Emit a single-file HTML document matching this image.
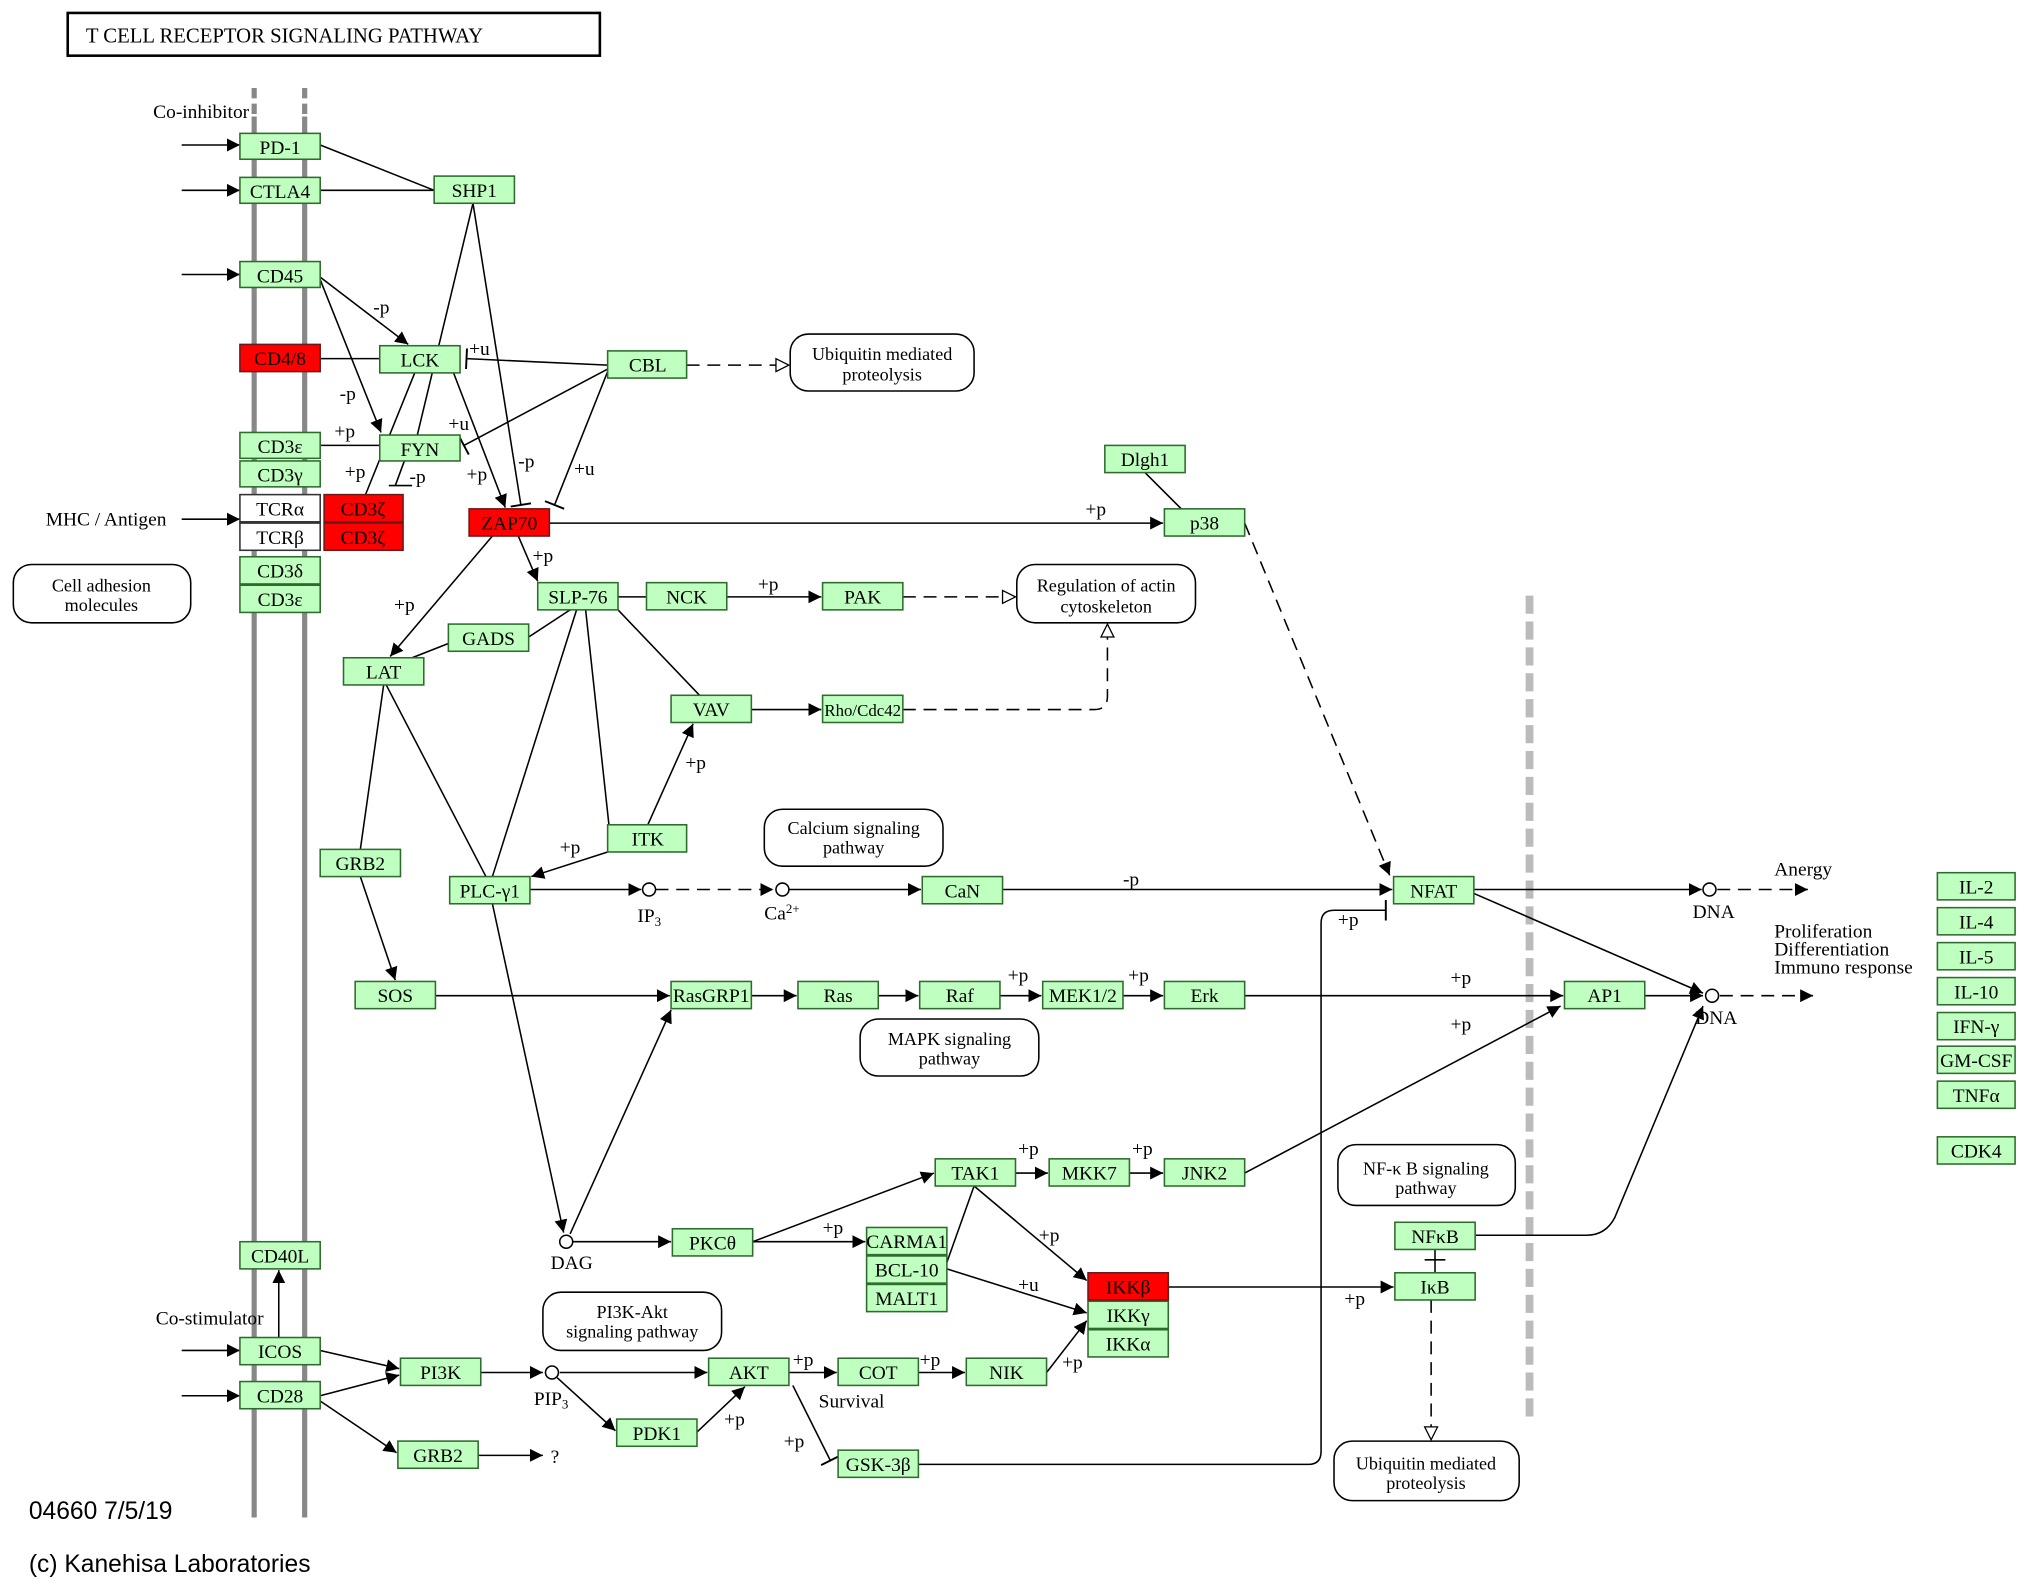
<!DOCTYPE html>
<html><head><meta charset="utf-8"><style>
html,body{margin:0;padding:0;background:#fff;}
svg{display:block}
text{font-family:"Liberation Serif",serif;font-size:15px;fill:#000}
.n rect{fill:#bfffbf;stroke:#2e6b2e;stroke-width:1.2}
.r rect{fill:#ff0000;stroke:#6b1a1a;stroke-width:1.2}
.w rect{fill:#fff;stroke:#333;stroke-width:1.2}
.n text,.r text,.w text{text-anchor:middle;font-size:15px}
.l{stroke:#000;stroke-width:1.2;fill:none}
.d{stroke:#000;stroke-width:1.2;fill:none;stroke-dasharray:10,6}
.rb{fill:#fff;stroke:#000;stroke-width:1.2}
.c{text-anchor:middle;font-size:14px}
</style></head><body>
<svg width="2031" height="1590" viewBox="0 0 1568 1228" xmlns="http://www.w3.org/2000/svg">
<defs>
<marker id="a" viewBox="0 0 10 10" refX="10" refY="5" markerWidth="10" markerHeight="10" markerUnits="userSpaceOnUse" orient="auto"><path d="M0,0L10,5L0,10z" fill="#000"/></marker>
<marker id="o" viewBox="0 0 12 12" refX="11" refY="6" markerWidth="12" markerHeight="12" markerUnits="userSpaceOnUse" orient="auto"><path d="M1,1L11,6L1,11z" fill="#fff" stroke="#000"/></marker>
<marker id="t" viewBox="0 0 4 16" refX="2" refY="8" markerWidth="4" markerHeight="16" markerUnits="userSpaceOnUse" orient="auto"><path d="M2,0L2,16" stroke="#000" stroke-width="1.5"/></marker>
</defs>
<rect x="0" y="0" width="1568" height="1228" fill="#fff"/>
<!-- title -->
<rect x="52" y="10" width="411" height="33" fill="#fff" stroke="#000" stroke-width="2"/>
<text x="66" y="33" style="font-size:16px">T  CELL  RECEPTOR  SIGNALING  PATHWAY</text>
<!-- membranes -->
<g stroke="#888" stroke-width="4">
<line x1="196" y1="68" x2="196" y2="90" stroke-dasharray="8,4"/><line x1="196" y1="90" x2="196" y2="1172"/>
<line x1="235" y1="68" x2="235" y2="90" stroke-dasharray="8,4"/><line x1="235" y1="90" x2="235" y2="1172"/>
</g>
<line x1="1181" y1="460" x2="1181" y2="1095" stroke="#bbb" stroke-width="6" stroke-dasharray="14,6"/>

<!-- edges -->
<g class="l">
<line x1="140" y1="112" x2="185" y2="112" marker-end="url(#a)"/>
<line x1="140" y1="147" x2="185" y2="147" marker-end="url(#a)"/>
<line x1="140" y1="212" x2="185" y2="212" marker-end="url(#a)"/>
<line x1="140" y1="401" x2="185" y2="401" marker-end="url(#a)"/>
<line x1="140" y1="1043" x2="185" y2="1043" marker-end="url(#a)"/>
<line x1="140" y1="1078" x2="185" y2="1078" marker-end="url(#a)"/>
<line x1="247" y1="112" x2="335" y2="147"/>
<line x1="247" y1="147" x2="335" y2="147"/>
<line x1="365" y1="157" x2="322" y2="336"/>
<line x1="365" y1="157" x2="402" y2="390" marker-end="url(#t)"/>
<line x1="247" y1="214" x2="315" y2="266" marker-end="url(#a)"/>
<line x1="247" y1="216" x2="294" y2="334" marker-end="url(#a)"/>
<line x1="247" y1="277" x2="293" y2="277"/>
<line x1="469" y1="282" x2="360" y2="277" marker-end="url(#t)"/>
<line x1="469" y1="285" x2="358" y2="344" marker-end="url(#t)"/>
<line x1="469" y1="287" x2="428" y2="390" marker-end="url(#t)"/>
<line x1="350" y1="288" x2="390" y2="392" marker-end="url(#a)"/>
<line x1="320" y1="288" x2="282" y2="382"/>
<line x1="247" y1="344" x2="293" y2="344"/>
<line x1="312" y1="356" x2="305" y2="375"/><line x1="300" y1="375" x2="318" y2="375"/>
<line x1="424" y1="404" x2="898" y2="404" marker-end="url(#a)"/>
<line x1="884" y1="365" x2="912" y2="393"/>
<line x1="400" y1="414" x2="415" y2="449" marker-end="url(#a)"/>
<line x1="380" y1="414" x2="301" y2="507" marker-end="url(#a)"/>
<line x1="477" y1="461" x2="499" y2="461"/>
<line x1="561" y1="461" x2="634" y2="461" marker-end="url(#a)"/>
<line x1="580" y1="548" x2="634" y2="548" marker-end="url(#a)"/>
<line x1="477" y1="471" x2="540" y2="537"/>
<line x1="408" y1="492" x2="440" y2="471"/>
<line x1="346" y1="497" x2="318" y2="508"/>
<line x1="298" y1="529" x2="375" y2="677"/>
<line x1="296" y1="529" x2="278" y2="656"/>
<line x1="445" y1="471" x2="380" y2="677"/>
<line x1="452" y1="471" x2="470" y2="637"/>
<line x1="500" y1="637" x2="535" y2="559" marker-end="url(#a)"/>
<line x1="469" y1="658" x2="410" y2="677" marker-end="url(#a)"/>
<line x1="278" y1="677" x2="305" y2="757" marker-end="url(#a)"/>
<line x1="409" y1="687" x2="495" y2="687" marker-end="url(#a)"/>
<line x1="609" y1="687" x2="711" y2="687" marker-end="url(#a)"/>
<line x1="774" y1="687" x2="1075" y2="687" marker-end="url(#a)"/>
<line x1="1138" y1="687" x2="1314" y2="687" marker-end="url(#a)"/>
<line x1="1138" y1="690" x2="1315" y2="767" marker-end="url(#a)"/>
<line x1="1270" y1="769" x2="1315" y2="769" marker-end="url(#a)"/>
<line x1="336" y1="769" x2="517" y2="769" marker-end="url(#a)"/>
<line x1="580" y1="769" x2="615" y2="769" marker-end="url(#a)"/>
<line x1="678" y1="769" x2="709" y2="769" marker-end="url(#a)"/>
<line x1="772" y1="769" x2="804" y2="769" marker-end="url(#a)"/>
<line x1="867" y1="769" x2="898" y2="769" marker-end="url(#a)"/>
<line x1="961" y1="769" x2="1207" y2="769" marker-end="url(#a)"/>
<line x1="380" y1="698" x2="435" y2="952" marker-end="url(#a)"/>
<line x1="440" y1="953" x2="518" y2="780" marker-end="url(#a)"/>
<line x1="442" y1="959" x2="518" y2="959" marker-end="url(#a)"/>
<line x1="581" y1="959" x2="721" y2="906" marker-end="url(#a)"/>
<line x1="581" y1="959" x2="668" y2="959" marker-end="url(#a)"/>
<line x1="784" y1="906" x2="809" y2="906" marker-end="url(#a)"/>
<line x1="872" y1="906" x2="898" y2="906" marker-end="url(#a)"/>
<line x1="961" y1="906" x2="1205" y2="777" marker-end="url(#a)"/>
<line x1="752" y1="916" x2="839" y2="989" marker-end="url(#a)"/>
<line x1="731" y1="975" x2="752" y2="916"/>
<line x1="731" y1="980" x2="839" y2="1014" marker-end="url(#a)"/>
<line x1="808" y1="1060" x2="839" y2="1020" marker-end="url(#a)"/>
<line x1="902" y1="994" x2="1076" y2="994" marker-end="url(#a)"/>
<line x1="1108" y1="965" x2="1108" y2="983"/><line x1="1100" y1="973" x2="1116" y2="973"/>
<path d="M1139,954 L1225,954 Q1240,954 1247,940 L1315,777" marker-end="url(#a)"/>
<path d="M709,1131 L1010,1131 Q1020,1131 1020,1121 L1020,713 Q1020,703 1030,703 L1070,703" marker-end="url(#t)"/>
<line x1="215" y1="1033" x2="215" y2="981" marker-end="url(#a)"/>
<line x1="247" y1="1043" x2="308" y2="1057" marker-end="url(#a)"/>
<line x1="247" y1="1078" x2="308" y2="1062" marker-end="url(#a)"/>
<line x1="247" y1="1082" x2="306" y2="1122" marker-end="url(#a)"/>
<line x1="369" y1="1124" x2="419" y2="1124" marker-end="url(#a)"/>
<line x1="371" y1="1060" x2="419" y2="1060" marker-end="url(#a)"/>
<line x1="432" y1="1060" x2="546" y2="1060" marker-end="url(#a)"/>
<line x1="430" y1="1064" x2="475" y2="1105" marker-end="url(#a)"/>
<line x1="538" y1="1106" x2="575" y2="1071" marker-end="url(#a)"/>
<line x1="609" y1="1060" x2="646" y2="1060" marker-end="url(#a)"/>
<line x1="709" y1="1060" x2="745" y2="1060" marker-end="url(#a)"/>
<line x1="612" y1="1070" x2="641" y2="1128" marker-end="url(#t)"/>
</g>
<g class="d">
<line x1="530" y1="282" x2="609" y2="282" marker-end="url(#o)"/>
<line x1="697" y1="461" x2="784" y2="461" marker-end="url(#o)"/>
<path d="M697,548 L845,548 Q855,548 855,538 L855,482" marker-end="url(#o)"/>
<line x1="961" y1="404" x2="1073" y2="676" marker-end="url(#a)"/>
<line x1="506" y1="687" x2="597" y2="687" marker-end="url(#a)"/>
<line x1="1326" y1="687" x2="1396" y2="687" marker-end="url(#a)"/>
<line x1="1328" y1="769" x2="1400" y2="769" marker-end="url(#a)"/>
<line x1="1105" y1="1004" x2="1105" y2="1112" marker-end="url(#o)"/>
</g>
<g fill="#fff" stroke="#000" stroke-width="1.2">
<circle cx="501" cy="687" r="5"/><circle cx="604" cy="687" r="5"/>
<circle cx="1320" cy="687" r="5"/><circle cx="1322" cy="769" r="5"/>
<circle cx="437" cy="959" r="5"/><circle cx="426" cy="1060" r="5"/>
</g>

<!-- rounded boxes -->
<g>
<rect class="rb" x="610" y="258" width="142" height="44" rx="14"/><text class="c" x="681" y="278">Ubiquitin mediated</text><text class="c" x="681" y="294">proteolysis</text>
<rect class="rb" x="785" y="436" width="138" height="45" rx="14"/><text class="c" x="854" y="457">Regulation of actin</text><text class="c" x="854" y="473">cytoskeleton</text>
<rect class="rb" x="10" y="436" width="137" height="45" rx="14"/><text class="c" x="78" y="457">Cell adhesion</text><text class="c" x="78" y="472">molecules</text>
<rect class="rb" x="590" y="625" width="138" height="44" rx="14"/><text class="c" x="659" y="644">Calcium signaling</text><text class="c" x="659" y="659">pathway</text>
<rect class="rb" x="664" y="787" width="138" height="44" rx="14"/><text class="c" x="733" y="807">MAPK signaling</text><text class="c" x="733" y="822">pathway</text>
<rect class="rb" x="1033" y="884" width="137" height="47" rx="14"/><text class="c" x="1101" y="907">NF-κ B signaling</text><text class="c" x="1101" y="922">pathway</text>
<rect class="rb" x="419" y="998" width="138" height="45" rx="14"/><text class="c" x="488" y="1018">PI3K-Akt</text><text class="c" x="488" y="1033">signaling pathway</text>
<rect class="rb" x="1030" y="1113" width="143" height="46" rx="14"/><text class="c" x="1101" y="1135">Ubiquitin mediated</text><text class="c" x="1101" y="1150">proteolysis</text>
</g>

<!-- nodes -->
<g class="n">
<rect x="185" y="103" width="62" height="20"/><text x="216" y="119">PD-1</text>
<rect x="185" y="137" width="62" height="20"/><text x="216" y="153">CTLA4</text>
<rect x="335" y="136" width="62" height="21"/><text x="366" y="152">SHP1</text>
<rect x="185" y="202" width="62" height="20"/><text x="216" y="218">CD45</text>
<rect x="293" y="267" width="62" height="21"/><text x="324" y="283">LCK</text>
<rect x="469" y="271" width="61" height="21"/><text x="500" y="287">CBL</text>
<rect x="185" y="334" width="62" height="20"/><text x="216" y="350">CD3ε</text>
<rect x="185" y="356" width="62" height="20"/><text x="216" y="372">CD3γ</text>
<rect x="293" y="336" width="62" height="20"/><text x="324" y="352">FYN</text>
<rect x="853" y="344" width="62" height="21"/><text x="884" y="360">Dlgh1</text>
<rect x="899" y="393" width="62" height="21"/><text x="930" y="409">p38</text>
<rect x="185" y="430" width="62" height="21"/><text x="216" y="446">CD3δ</text>
<rect x="185" y="452" width="62" height="21"/><text x="216" y="468">CD3ε</text>
<rect x="415" y="450" width="62" height="21"/><text x="446" y="466">SLP-76</text>
<rect x="499" y="450" width="62" height="21"/><text x="530" y="466">NCK</text>
<rect x="635" y="450" width="62" height="21"/><text x="666" y="466">PAK</text>
<rect x="346" y="482" width="62" height="21"/><text x="377" y="498">GADS</text>
<rect x="265" y="508" width="62" height="21"/><text x="296" y="524">LAT</text>
<rect x="518" y="537" width="62" height="21"/><text x="549" y="553">VAV</text>
<rect x="635" y="537" width="62" height="21"/><text x="666" y="553" style="font-size:13px">Rho/Cdc42</text>
<rect x="469" y="637" width="61" height="21"/><text x="500" y="653">ITK</text>
<rect x="247" y="656" width="62" height="21"/><text x="278" y="672">GRB2</text>
<rect x="347" y="677" width="62" height="21"/><text x="378" y="693">PLC-γ1</text>
<rect x="712" y="677" width="62" height="21"/><text x="743" y="693">CaN</text>
<rect x="1076" y="677" width="62" height="21"/><text x="1107" y="693">NFAT</text>
<rect x="274" y="758" width="62" height="21"/><text x="305" y="774">SOS</text>
<rect x="518" y="758" width="62" height="21"/><text x="549" y="774">RasGRP1</text>
<rect x="616" y="758" width="62" height="21"/><text x="647" y="774">Ras</text>
<rect x="710" y="758" width="62" height="21"/><text x="741" y="774">Raf</text>
<rect x="805" y="758" width="62" height="21"/><text x="836" y="774">MEK1/2</text>
<rect x="899" y="758" width="62" height="21"/><text x="930" y="774">Erk</text>
<rect x="1208" y="758" width="62" height="21"/><text x="1239" y="774">AP1</text>
<rect x="722" y="895" width="62" height="21"/><text x="753" y="911">TAK1</text>
<rect x="810" y="895" width="62" height="21"/><text x="841" y="911">MKK7</text>
<rect x="899" y="895" width="62" height="21"/><text x="930" y="911">JNK2</text>
<rect x="519" y="949" width="62" height="21"/><text x="550" y="965">PKCθ</text>
<rect x="669" y="948" width="62" height="21"/><text x="700" y="964">CARMA1</text>
<rect x="669" y="970" width="62" height="21"/><text x="700" y="986">BCL-10</text>
<rect x="669" y="992" width="62" height="21"/><text x="700" y="1008">MALT1</text>
<rect x="840" y="1005" width="62" height="21"/><text x="871" y="1021">IKKγ</text>
<rect x="840" y="1027" width="62" height="21"/><text x="871" y="1043">IKKα</text>
<rect x="1077" y="944" width="62" height="21"/><text x="1108" y="960">NFκB</text>
<rect x="1077" y="983" width="62" height="21"/><text x="1108" y="999">IκB</text>
<rect x="185" y="959" width="62" height="21"/><text x="216" y="975">CD40L</text>
<rect x="185" y="1033" width="62" height="21"/><text x="216" y="1049">ICOS</text>
<rect x="185" y="1067" width="62" height="21"/><text x="216" y="1083">CD28</text>
<rect x="309" y="1049" width="62" height="21"/><text x="340" y="1065">PI3K</text>
<rect x="547" y="1049" width="62" height="21"/><text x="578" y="1065">AKT</text>
<rect x="647" y="1049" width="62" height="21"/><text x="678" y="1065">COT</text>
<rect x="746" y="1049" width="62" height="21"/><text x="777" y="1065">NIK</text>
<rect x="476" y="1096" width="62" height="21"/><text x="507" y="1112">PDK1</text>
<rect x="647" y="1120" width="62" height="21"/><text x="678" y="1136">GSK-3β</text>
<rect x="307" y="1113" width="62" height="21"/><text x="338" y="1129">GRB2</text>
<rect x="1496" y="674" width="60" height="21"/><text x="1526" y="690">IL-2</text>
<rect x="1496" y="701" width="60" height="21"/><text x="1526" y="717">IL-4</text>
<rect x="1496" y="728" width="60" height="21"/><text x="1526" y="744">IL-5</text>
<rect x="1496" y="755" width="60" height="21"/><text x="1526" y="771">IL-10</text>
<rect x="1496" y="782" width="60" height="21"/><text x="1526" y="798">IFN-γ</text>
<rect x="1496" y="808" width="60" height="21"/><text x="1526" y="824">GM-CSF</text>
<rect x="1496" y="835" width="60" height="21"/><text x="1526" y="851">TNFα</text>
<rect x="1496" y="878" width="60" height="21"/><text x="1526" y="894">CDK4</text>
</g>
<g class="r">
<rect x="185" y="266" width="62" height="21"/><text x="216" y="282">CD4/8</text>
<rect x="250" y="382" width="61" height="21"/><text x="280" y="398">CD3ζ</text>
<rect x="250" y="404" width="61" height="21"/><text x="280" y="420">CD3ζ</text>
<rect x="362" y="393" width="62" height="21"/><text x="393" y="409">ZAP70</text>
<rect x="840" y="983" width="62" height="21"/><text x="871" y="999">IKKβ</text>
</g>
<g class="w">
<rect x="185" y="382" width="62" height="21"/><text x="216" y="398">TCRα</text>
<rect x="185" y="404" width="62" height="21"/><text x="216" y="420">TCRβ</text>
</g>

<!-- labels -->
<g style="font-size:14px">
<text x="118" y="91">Co-inhibitor</text>
<text x="35" y="406">MHC / Antigen</text>
<text x="120" y="1023">Co-stimulator</text>
<text x="288" y="242">-p</text><text x="262" y="309">-p</text>
<text x="362" y="274">+u</text><text x="346" y="332">+u</text><text x="443" y="367">+u</text>
<text x="258" y="338">+p</text><text x="266" y="369">+p</text><text x="316" y="373">-p</text>
<text x="360" y="371">+p</text><text x="400" y="361">-p</text>
<text x="838" y="398">+p</text><text x="411" y="434">+p</text><text x="304" y="472">+p</text>
<text x="585" y="456">+p</text><text x="529" y="594">+p</text><text x="432" y="659">+p</text>
<text x="867" y="684">-p</text><text x="1033" y="715">+p</text>
<text x="492" y="712">IP<tspan style="font-size:10px" dy="3">3</tspan></text>
<text x="590" y="710">Ca<tspan style="font-size:10px" dy="-5">2+</tspan></text>
<text x="1370" y="676">Anergy</text><text x="1307" y="709">DNA</text><text x="1309" y="791">DNA</text>
<text x="1370" y="724">Proliferation</text><text x="1370" y="738">Differentiation</text><text x="1370" y="752">Immuno response</text>
<text x="778" y="758">+p</text><text x="871" y="758">+p</text><text x="1120" y="760">+p</text><text x="1120" y="796">+p</text>
<text x="425" y="980">DAG</text><text x="635" y="953">+p</text>
<text x="786" y="892">+p</text><text x="874" y="892">+p</text><text x="802" y="959">+p</text><text x="786" y="997">+u</text>
<text x="820" y="1057">+p</text><text x="1038" y="1008">+p</text>
<text x="412" y="1085">PIP<tspan style="font-size:10px" dy="3">3</tspan></text>
<text x="612" y="1055">+p</text><text x="710" y="1055">+p</text><text x="632" y="1087">Survival</text>
<text x="559" y="1101">+p</text><text x="605" y="1118">+p</text><text x="425" y="1130">?</text>
</g>
<text x="22" y="1173" style="font-family:'Liberation Sans',sans-serif;font-size:19px">04660 7/5/19</text>
<text x="22" y="1214" style="font-family:'Liberation Sans',sans-serif;font-size:19px">(c) Kanehisa Laboratories</text>
</svg>
</body></html>
